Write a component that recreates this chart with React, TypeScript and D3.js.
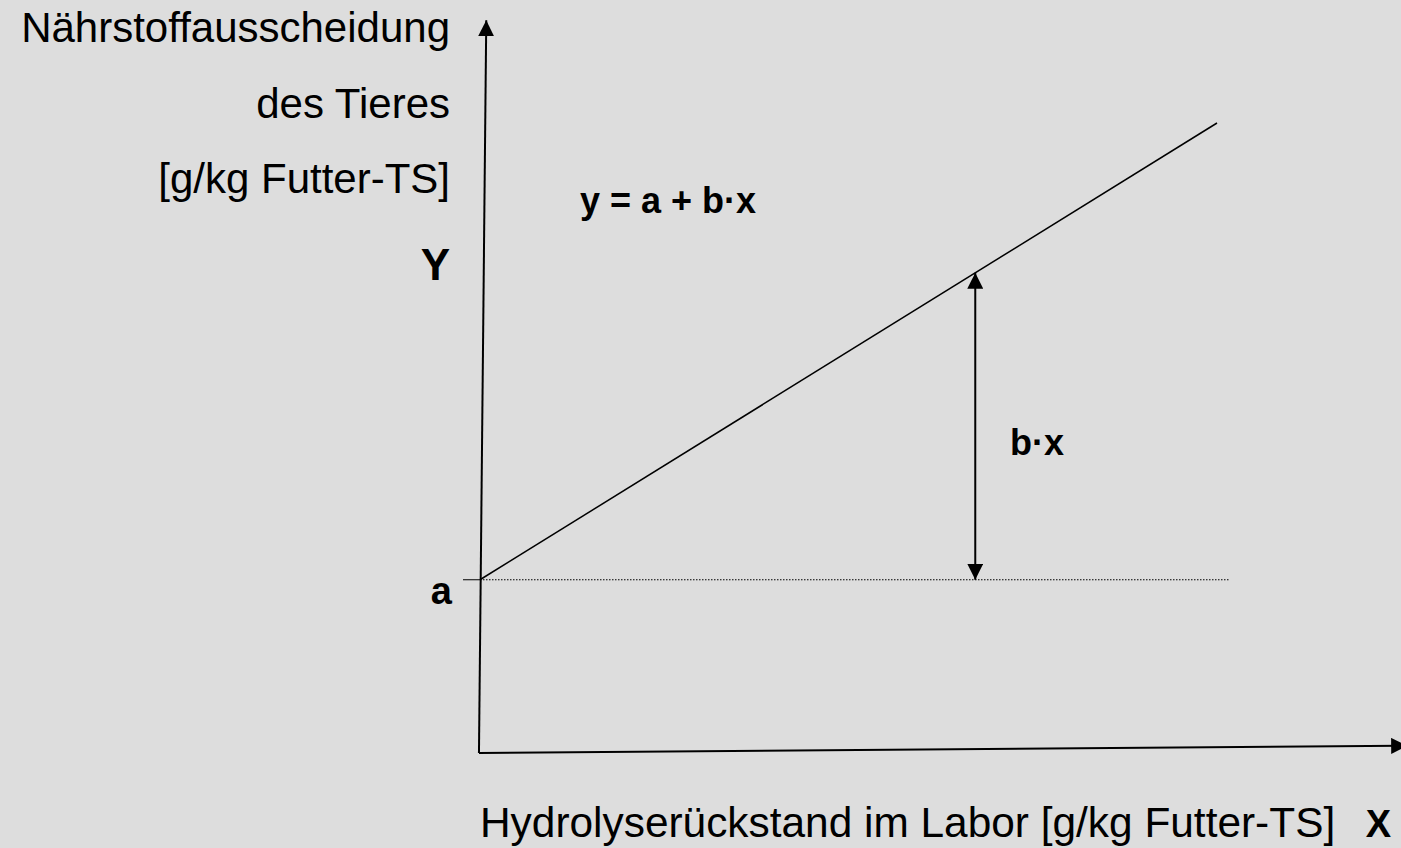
import React, { useEffect, useRef } from 'react';
import * as d3 from 'd3';

// schematic regression: y = a + b·x (values in arbitrary data units)
const intercept = 27.5;
const slope = 0.725;
const lineX = [0, 100];
const dottedX = [0, 101.6];
const arrowX = 67.2;
const yAxisPts = [[-0.14, 0], [0.85, 116.3]];
const xAxisPts = [[-0.14, 0], [125.8, 1.15]];
const yLabelLines = ['Nährstoffausscheidung', 'des Tieres', '[g/kg Futter-TS]'];
const xLabel = 'Hydrolyserückstand im Labor [g/kg Futter-TS]';
const equation = 'y = a + b·x';

export default function App() {
    const svgRef = useRef(null);

    useEffect(() => {
        const width = 1401;
        const height = 848;
        const font = '"Liberation Sans", Arial, sans-serif';

        const svg = d3.select(svgRef.current)
            .attr('width', width)
            .attr('height', height);
        svg.selectAll('*').remove();

        svg.append('rect').attr('width', width).attr('height', height).attr('fill', '#dddddd');

        const x = d3.scaleLinear().domain([0, 100]).range([480, 1217]);
        const y = d3.scaleLinear().domain([0, 100]).range([753, 123]);

        // arrow heads
        const defs = svg.append('defs');
        defs.append('marker')
            .attr('id', 'tri')
            .attr('viewBox', '0 0 16 16')
            .attr('refX', 16).attr('refY', 8)
            .attr('markerWidth', 16).attr('markerHeight', 16)
            .attr('markerUnits', 'userSpaceOnUse')
            .attr('orient', 'auto-start-reverse')
            .append('path').attr('d', 'M0,0L16,8L0,16Z').attr('fill', '#000');

        const line = d3.line().x(d => x(d[0])).y(d => y(d[1]));

        // axes
        svg.append('path').attr('d', line(yAxisPts)).attr('stroke', '#000').attr('stroke-width', 2)
            .attr('fill', 'none').attr('marker-end', 'url(#tri)');
        svg.append('path').attr('d', line(xAxisPts)).attr('stroke', '#000').attr('stroke-width', 2)
            .attr('fill', 'none').attr('marker-end', 'url(#tri)');

        // tick at a
        svg.append('line')
            .attr('x1', x(0) - 17).attr('x2', x(0))
            .attr('y1', y(intercept)).attr('y2', y(intercept))
            .attr('stroke', '#000').attr('stroke-width', 1);

        // dotted baseline at a
        svg.append('line')
            .attr('x1', x(dottedX[0])).attr('x2', x(dottedX[1]))
            .attr('y1', y(intercept)).attr('y2', y(intercept))
            .attr('stroke', '#000').attr('stroke-width', 1)
            .attr('stroke-dasharray', '1.5,1.5');

        // regression line
        svg.append('path')
            .attr('d', line(lineX.map(v => [v, intercept + slope * v])))
            .attr('stroke', '#000').attr('stroke-width', 1.5).attr('fill', 'none');

        // b·x double arrow
        svg.append('line')
            .attr('x1', x(arrowX)).attr('x2', x(arrowX))
            .attr('y1', y(intercept)).attr('y2', y(intercept + slope * arrowX))
            .attr('stroke', '#000').attr('stroke-width', 2)
            .attr('marker-start', 'url(#tri)').attr('marker-end', 'url(#tri)');

        // texts
        const txt = (s, px, py, size, anchor, bold) => svg.append('text')
            .attr('x', px).attr('y', py)
            .attr('font-family', font).attr('font-size', size)
            .attr('font-weight', bold ? 'bold' : 'normal')
            .attr('text-anchor', anchor).attr('fill', '#000')
            .text(s);

        const yBase = [42, 118, 193];
        yLabelLines.forEach((s, i) => txt(s, 450, yBase[i], 42, 'end', false));
        txt('Y', 450, 280, 44, 'end', true);
        txt(equation, 580, 213, 36, 'start', true);
        txt('b·x', 1010, 455, 36, 'start', true);
        txt('a', 452, 604, 38, 'end', true);
        txt(xLabel, 480, 837, 42.4, 'start', false);
        txt('X', 1391, 837, 38, 'end', true);
    }, []);

    return (
        <div style={{ position: 'fixed', left: 0, top: 0 }}>
            <svg ref={svgRef} style={{ display: 'block' }}></svg>
        </div>
    );
}
